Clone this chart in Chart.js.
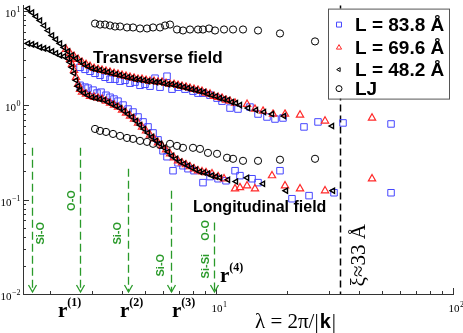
<!DOCTYPE html>
<html><head><meta charset="utf-8">
<script src="https://cdn.jsdelivr.net/npm/chart.js@4/dist/chart.umd.min.js"></script>
<style>html,body{margin:0;padding:0;background:#fff;}#wrap{width:463px;height:333px;}</style>
</head><body><div id="wrap"><canvas id="c" width="463" height="333"></canvas></div>
<script>
// ---------------- data (lambda in Å, correlation value) ----------------
const seriesLabels = ['L = 83.8 Å', 'L = 69.6 Å', 'L = 48.2 Å', 'LJ'];

const L838_transverse = [[2.668,2.51],[2.801,2.39],[2.94,2.28],[3.087,2.17],[3.241,2.07],[3.402,1.97],[3.571,1.88],[3.749,1.88],[3.936,1.79],[4.132,1.83],[4.337,1.705],[4.553,1.75],[4.779,1.62],[5.017,1.66],[5.267,1.585],[5.529,1.925],[5.804,1.547],[6.212,2.02],[6.521,1.474],[6.913,1.547],[7.399,1.474],[7.997,1.404],[8.394,1.338],[8.811,1.338],[9.434,1.274],[10.1,1.185],[10.6,1.10],[11.46,0.93],[12.38,0.908],[13.91,0.953],[15.04,0.804],[16.41,0.748],[17.74,0.712],[19.17,0.73],[23.51,0.587],[26.94,0.663],[34.35,0.647],[54.77,0.631]];
const L838_longitudinal = [[2.668,1.62],[2.801,1.55],[2.884,1.51],[3.027,1.44],[3.147,1.34],[3.272,1.37],[3.434,1.27],[3.571,1.21],[3.712,1.157],[3.859,1.10],[4.052,1.0],[4.254,0.908],[4.465,0.844],[4.688,0.748],[4.921,0.663],[5.165,0.587],[5.423,0.507],[5.692,0.428],[5.975,0.328],[6.212,0.284],[6.585,0.202],[6.913,0.245],[7.256,0.228],[7.617,0.212],[8.075,0.202],[8.811,0.151],[9.434,0.175],[10.2,0.166],[11.02,0.158],[12.03,0.202],[12.62,0.179],[14.19,0.166],[15.04,0.151],[18.62,0.202],[20.92,0.102],[24.69,0.110],[31.47,0.118],[54.77,0.118]];

const L696_transverse = [[2.328,3.89],[2.421,3.53],[2.517,3.28],[2.617,3.05],[2.72,2.84],[2.828,2.70],[2.94,2.57],[3.057,2.45],[3.177,2.39],[3.304,2.34],[3.434,2.28],[3.571,2.23],[3.712,2.17],[3.859,2.12],[4.013,2.07],[4.172,2.02],[4.337,1.97],[4.509,1.93],[4.688,1.88],[4.873,1.88],[5.066,1.83],[5.267,1.79],[5.476,1.79],[5.692,1.75],[5.918,1.75],[6.152,1.70],[6.396,1.66],[6.649,1.66],[6.913,1.62],[7.186,1.585],[7.471,1.55],[7.767,1.51],[8.075,1.47],[8.394,1.44],[8.727,1.40],[9.073,1.34],[9.434,1.31],[9.808,1.24],[10.2,1.21],[10.6,1.185],[11.02,1.13],[11.46,1.10],[12.03,1.05],[13.52,1.02],[14.6,0.908],[15.79,0.865],[17.4,0.804],[19.55,0.804],[22.62,0.785],[28.84,0.679],[45.53,0.73]];
const L696_longitudinal = [[2.421,3.05],[2.469,2.70],[2.517,2.34],[2.567,1.97],[2.617,1.66],[2.668,1.47],[2.72,1.37],[2.828,1.31],[2.94,1.24],[3.057,1.21],[3.177,1.185],[3.304,1.157],[3.434,1.10],[3.571,1.05],[3.712,1.0],[3.859,0.953],[4.013,0.886],[4.172,0.824],[4.337,0.766],[4.509,0.712],[4.688,0.647],[4.873,0.587],[5.066,0.533],[5.267,0.483],[5.476,0.439],[5.692,0.398],[5.918,0.37],[6.152,0.336],[6.396,0.305],[6.649,0.277],[6.913,0.257],[7.186,0.245],[7.471,0.234],[7.767,0.223],[8.075,0.212],[8.394,0.202],[8.727,0.197],[9.073,0.193],[9.619,0.188],[10.2,0.175],[10.81,0.166],[12.03,0.130],[12.62,0.134],[13.52,0.140],[14.6,0.130],[17.23,0.179],[19.55,0.140],[22.62,0.130],[28.84,0.124],[45.53,0.166]];

const L482_transverse = [[1.61,10.5],[1.674,9.53],[1.74,8.65],[1.809,7.85],[1.881,6.96],[1.955,6.16],[2.033,5.46],[2.113,4.95],[2.197,4.49],[2.284,4.08],[2.375,3.70],[2.469,3.36],[2.567,3.12],[2.668,2.91],[2.774,2.70],[2.884,2.57],[2.999,2.45],[3.117,2.39],[3.241,2.34],[3.369,2.28],[3.503,2.23],[3.641,2.17],[3.786,2.12],[3.936,2.07],[4.092,2.02],[4.254,1.97],[4.422,1.93],[4.597,1.88],[4.779,1.86],[4.969,1.83],[5.165,1.79],[5.37,1.79],[5.583,1.75],[5.804,1.75],[6.034,1.70],[6.273,1.66],[6.521,1.66],[6.779,1.62],[7.048,1.585],[7.327,1.55],[7.617,1.51],[7.918,1.47],[8.232,1.44],[8.558,1.40],[8.897,1.37],[9.249,1.31],[9.619,1.27],[10.0,1.24],[10.39,1.185],[10.81,1.157],[11.24,1.129],[11.68,1.075],[12.14,1.05],[12.62,1.0],[13.65,0.93],[14.75,0.886],[15.94,0.844],[17.23,0.804],[19.36,0.766],[30.87,0.60]];
const L482_longitudinal = [[1.61,4.49],[1.674,4.39],[1.74,4.28],[1.809,4.08],[1.881,3.98],[1.955,3.89],[2.033,3.70],[2.113,3.53],[2.197,3.36],[2.284,3.28],[2.375,3.12],[2.421,2.84],[2.469,2.51],[2.517,2.17],[2.567,1.83],[2.617,1.585],[2.668,1.44],[2.774,1.34],[2.884,1.27],[2.999,1.21],[3.117,1.185],[3.241,1.157],[3.369,1.13],[3.503,1.075],[3.641,1.024],[3.786,0.976],[3.936,0.93],[4.092,0.865],[4.254,0.804],[4.422,0.748],[4.597,0.679],[4.779,0.616],[4.969,0.559],[5.165,0.507],[5.37,0.46],[5.583,0.418],[5.804,0.389],[6.034,0.353],[6.273,0.32],[6.521,0.29],[6.779,0.27],[7.048,0.251],[7.327,0.239],[7.617,0.228],[7.918,0.217],[8.232,0.207],[8.558,0.197],[8.897,0.193],[9.249,0.188],[9.619,0.179],[10.0,0.175],[10.39,0.17],[11.24,0.162],[12.14,0.155],[13.52,0.17],[15.79,0.147],[19.74,0.124],[31.16,0.124]];

const LJ_transverse = [[3.087,7.30],[3.241,7.12],[3.402,7.12],[3.571,6.96],[3.749,6.79],[3.936,6.79],[4.212,6.63],[4.465,6.63],[4.779,6.47],[5.116,6.47],[5.423,6.63],[5.804,6.63],[6.093,6.96],[6.396,7.12],[6.846,6.31],[7.256,6.16],[7.767,6.31],[8.394,6.31],[8.811,6.31],[9.343,6.47],[9.903,6.16],[10.81,6.31],[11.8,6.31],[13.0,6.31],[15.04,6.16],[18.62,5.73],[26.17,4.72]];
const LJ_longitudinal = [[3.087,0.559],[3.241,0.533],[3.434,0.52],[3.676,0.495],[3.936,0.472],[4.212,0.449],[4.465,0.439],[4.779,0.418],[5.116,0.408],[5.423,0.389],[5.804,0.379],[6.396,0.389],[6.846,0.37],[7.256,0.353],[7.997,0.353],[8.558,0.344],[9.249,0.312],[10.1,0.305],[11.13,0.277],[11.8,0.27],[13.0,0.257],[15.04,0.257],[18.62,0.264],[26.17,0.27]];

// reference pair distances (Å), top of their marker lines, and names
const pairDistances = [1.674, 2.668, 4.254, 6.458, 9.808];
const pairLineTops  = [0.353, 0.353, 0.212, 0.124, 0.057];
const pairNames = [['Si-O'], ['O-O'], ['Si-O'], ['Si-O'], ['Si-Si', 'O-O']];
const shellNames = ['(1)', '(2)', '(3)', '(4)'];
const correlationLength = 33.37; // ξ ≈ 33 Å

const xRange = [1.533, 100];
const yRange = [0.01, 11.3];
const xMajorTicks = [10, 100];
const yMajorTicks = [0.01, 0.1, 1, 10];

// ---------------- helpers ----------------
const pts = a => a.map(([x, y]) => ({x, y}));
const SERIF = '"Liberation Serif", "DejaVu Serif", serif';
const SANS = '"Liberation Sans", Arial, sans-serif';
const GREEN = '#2a9a2a';
const BLUE = '#4646ff';
const RED = '#ff2a2a';

function drawPow(ctx, exp, x, y, align) {
  ctx.fillStyle = '#000';
  ctx.textBaseline = 'alphabetic';
  ctx.font = '11px ' + SERIF;
  const w10 = ctx.measureText('10').width;
  ctx.font = '8px ' + SERIF;
  const se = String(exp).replace('-', '\u2212');
  const we = ctx.measureText(se).width;
  let x0 = x;
  if (align === 'right') x0 = x - w10 - we - 1;
  if (align === 'center10') x0 = x - w10 / 2;
  ctx.font = '11px ' + SERIF;
  ctx.textAlign = 'left';
  ctx.fillText('10', x0, y);
  ctx.font = '8px ' + SERIF;
  ctx.fillText(se, x0 + w10 + 0.5, y - 5);
}

function marker(ctx, style, x, y, r, color) {
  ctx.save();
  ctx.strokeStyle = color; ctx.lineWidth = 1; ctx.beginPath();
  if (style === 'rect') { const s = r * Math.SQRT1_2; ctx.rect(x - s, y - s, 2 * s, 2 * s); }
  else if (style === 'tri') { ctx.moveTo(x, y - r); ctx.lineTo(x + r * 0.866, y + r * 0.5); ctx.lineTo(x - r * 0.866, y + r * 0.5); ctx.closePath(); }
  else if (style === 'ltri') { ctx.moveTo(x - r, y); ctx.lineTo(x + r * 0.5, y - r * 0.866); ctx.lineTo(x + r * 0.5, y + r * 0.866); ctx.closePath(); }
  else { ctx.arc(x, y, r, 0, Math.PI * 2); }
  ctx.stroke(); ctx.restore();
}

const decor = {
  id: 'decor',
  beforeDatasetsDraw(chart) {
    const {ctx, chartArea: a, scales: {x, y}} = chart;
    ctx.save();
    // inward ticks
    ctx.strokeStyle = '#333'; ctx.lineWidth = 1;
    for (let d = -3; d <= 2; d++) for (let m = 1; m <= 9; m++) {
      const v = m * Math.pow(10, d);
      if (v >= yRange[0] * 0.999 && v <= yRange[1]) {
        const py = Math.round(y.getPixelForValue(v)) + 0.5;
        const len = m === 1 ? 6 : 3;
        ctx.beginPath(); ctx.moveTo(a.left, py); ctx.lineTo(a.left + len, py); ctx.stroke();
      }
      if (v >= xRange[0] && v <= xRange[1] * 1.001) {
        const px = Math.round(x.getPixelForValue(v)) + 0.5;
        const len = m === 1 ? 6 : 3;
        ctx.beginPath(); ctx.moveTo(px, a.bottom); ctx.lineTo(px, a.bottom - len); ctx.stroke();
      }
    }
    // correlation length line
    const xx = Math.round(x.getPixelForValue(correlationLength)) + 0.5;
    ctx.strokeStyle = '#000'; ctx.lineWidth = 1.5; ctx.setLineDash([7, 4]);
    ctx.beginPath(); ctx.moveTo(xx, a.top); ctx.lineTo(xx, a.bottom); ctx.stroke();
    // pair distance arrows
    ctx.strokeStyle = GREEN; ctx.lineWidth = 1.3;
    pairDistances.forEach((d, i) => {
      const px = Math.round(x.getPixelForValue(d)) + 0.5;
      const top = y.getPixelForValue(pairLineTops[i]);
      ctx.setLineDash([8, 4]);
      ctx.beginPath(); ctx.moveTo(px, top); ctx.lineTo(px, a.bottom - 2); ctx.stroke();
      ctx.setLineDash([]);
      ctx.beginPath(); ctx.moveTo(px - 4, a.bottom - 9); ctx.lineTo(px, a.bottom - 2); ctx.lineTo(px + 4, a.bottom - 9); ctx.stroke();
    });
    ctx.restore();
  },
  afterDatasetsDraw(chart) {
    const {ctx, chartArea: a, scales: {x, y}} = chart;
    ctx.save();
    // tick labels
    yMajorTicks.forEach(v => drawPow(ctx, Math.round(Math.log10(v)), a.left - 2, y.getPixelForValue(v) + 6, 'right'));
    xMajorTicks.forEach(v => drawPow(ctx, Math.round(Math.log10(v)), x.getPixelForValue(v) + 1, a.bottom + 18, 'center10'));
    // axis title λ = 2π/|k|
    let tx = x.getPixelForValue(14.6), ty = a.bottom + 34;
    ctx.fillStyle = '#000'; ctx.textAlign = 'left'; ctx.textBaseline = 'alphabetic';
    ctx.font = '21px ' + SERIF; ctx.fillText('\u03bb = 2\u03c0/|', tx, ty); tx += ctx.measureText('\u03bb = 2\u03c0/|').width;
    ctx.font = 'bold 20px ' + SANS; ctx.fillText('k', tx + 1, ty); tx += ctx.measureText('k').width + 2;
    ctx.font = '21px ' + SERIF; ctx.fillText('|', tx, ty);
    // shell labels r^(n)
    const rX = [2.154, 3.936, 6.52, 10.39];
    shellNames.forEach((s, i) => {
      const px = x.getPixelForValue(rX[i]);
      const base = i < 3 ? a.bottom + 23 : a.bottom - 12;
      ctx.font = 'bold 21px ' + SERIF; ctx.fillText('r', px, base);
      const w = ctx.measureText('r').width;
      ctx.font = 'bold 12px ' + SERIF; ctx.fillText(s, px + w, base - 11);
    });
    // pair names, rotated
    const nameX = [[1.827], [2.469], [3.859], [5.86], [9.073, 9.073]];
    const nameY = [[0.0439], [0.0976], [0.0439], [0.0202], [0.0197, 0.0472]];
    ctx.fillStyle = GREEN; ctx.font = 'bold 11px ' + SANS; ctx.textAlign = 'center'; ctx.textBaseline = 'middle';
    pairNames.forEach((names, i) => names.forEach((n, j) => {
      ctx.save(); ctx.translate(x.getPixelForValue(nameX[i][j]), y.getPixelForValue(nameY[i][j])); ctx.rotate(-Math.PI / 2);
      ctx.fillText(n, 0, 0); ctx.restore();
    }));
    // ξ label
    ctx.save(); ctx.translate(x.getPixelForValue(40.5), y.getPixelForValue(0.0257)); ctx.rotate(-Math.PI / 2);
    ctx.fillStyle = '#000'; ctx.font = '21px ' + SERIF; ctx.textAlign = 'center'; ctx.textBaseline = 'middle';
    ctx.fillText('\u03be\u224833 \u00c5', 0, 0); ctx.restore();
    // field labels
    ctx.fillStyle = '#000'; ctx.textAlign = 'left'; ctx.textBaseline = 'alphabetic';
    ctx.font = 'bold 17px ' + SANS; ctx.fillText('Transverse field', x.getPixelForValue(3.03), y.getPixelForValue(2.77));
    ctx.font = 'bold 16px ' + SANS; ctx.fillText('Longitudinal field', x.getPixelForValue(8.0), y.getPixelForValue(0.073));
    // legend
    const lx = a.right - 125, ly = a.top + 3, lw = 121, lh = 90;
    ctx.fillStyle = '#fff'; ctx.fillRect(lx, ly, lw, lh);
    ctx.strokeStyle = '#555'; ctx.lineWidth = 1; ctx.strokeRect(lx + 0.5, ly + 0.5, lw, lh);
    const styles = [['rect', 3.5, BLUE], ['tri', 3, RED], ['ltri', 2.3, '#000'], ['circle', 3, '#000']];
    const rowsY = [16, 39, 61, 80];
    seriesLabels.forEach((lab, i) => {
      marker(ctx, styles[i][0], lx + 11, ly + rowsY[i], styles[i][1], styles[i][2]);
      ctx.fillStyle = '#000'; ctx.font = 'bold 19px ' + SANS; ctx.textBaseline = 'middle';
      ctx.fillText(lab, lx + 27, ly + rowsY[i] + 1);
    });
    ctx.restore();
  }
};

new Chart(document.getElementById('c'), {
  type: 'scatter',
  data: {
    datasets: [
      {label: seriesLabels[2], data: pts(L482_transverse.concat(L482_longitudinal)), pointStyle: 'triangle', pointRotation: -90, pointRadius: 3, pointBorderColor: '#000', pointBackgroundColor: 'rgba(0,0,0,0)', pointBorderWidth: 1.4, order: 0},
      {label: seriesLabels[3], data: pts(LJ_transverse.concat(LJ_longitudinal)), pointStyle: 'circle', pointRadius: 3.6, pointBorderColor: '#000', pointBackgroundColor: 'rgba(0,0,0,0)', pointBorderWidth: 1, order: 1},
      {label: seriesLabels[1], data: pts(L696_transverse.concat(L696_longitudinal)), pointStyle: 'triangle', pointRadius: 4.2, pointBorderColor: RED, pointBackgroundColor: 'rgba(0,0,0,0)', pointBorderWidth: 1.2, order: 2},
      {label: seriesLabels[0], data: pts(L838_transverse.concat(L838_longitudinal)), pointStyle: 'rect', pointRadius: 4.6, pointBorderColor: BLUE, pointBackgroundColor: 'rgba(0,0,0,0)', pointBorderWidth: 1, order: 3}
    ]
  },
  options: {
    responsive: false, animation: false, devicePixelRatio: 1,
    layout: {padding: {left: 23, top: 4, right: 10, bottom: 39}},
    plugins: {legend: {display: false}, tooltip: {enabled: false}},
    scales: {
      x: {type: 'logarithmic', min: xRange[0], max: xRange[1], grid: {display: false, drawTicks: false}, ticks: {display: false}, border: {display: true, color: '#333', width: 1}},
      y: {type: 'logarithmic', min: yRange[0], max: yRange[1], grid: {display: false, drawTicks: false}, ticks: {display: false}, border: {display: true, color: '#333', width: 1}}
    }
  },
  plugins: [decor]
});
</script></body></html>
